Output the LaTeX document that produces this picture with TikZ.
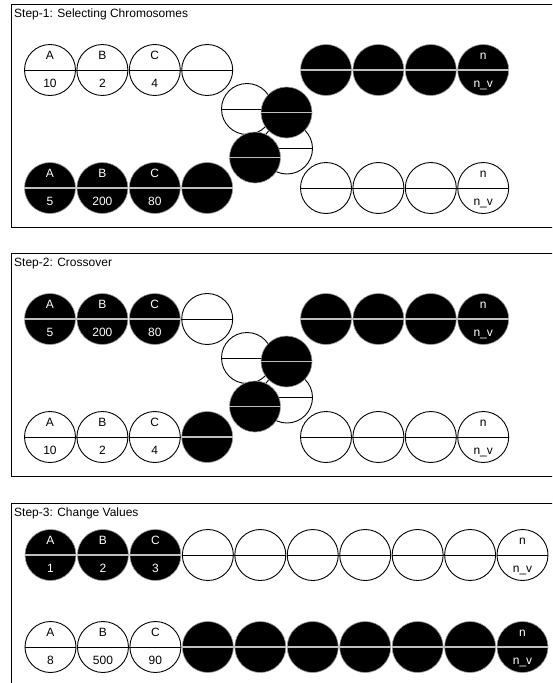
\documentclass[tikz,border=0pt]{standalone}
\usepackage{fontspec}
\setmainfont{Liberation Sans}
\newcommand{\lbl}{\fontsize{12}{14}\selectfont}
\tikzset{
 wc/.style={circle,draw=black,fill=white,minimum size=51pt,inner sep=0pt,line width=0.9pt},
 bc/.style={circle,draw=black!40,fill=black,minimum size=51pt,inner sep=0pt,line width=0.6pt},
 wcline/.style={draw=black,line width=1pt},
 bcline/.style={draw=black!25,line width=1.2pt},
 wctxt/.style={font=\lbl,text=black,inner sep=0pt,anchor=base},
 bctxt/.style={font=\lbl,text=white,inner sep=0pt,anchor=base},
 framebox/.style={draw=black,line width=1pt},
 titletxt/.style={font=\lbl,anchor=west,inner sep=0pt}
}
\newcommand{\crm}[4]{%
 \node[#4c] (#1) at (#2,#3) {};
 \draw[#4cline] (#1.west) -- (#1.east);}
\newcommand{\crmlab}[6]{%
 \crm{#1}{#2}{#3}{#4}
 \node[#4ctxt] (#1t) at (#2,#3-10.7) {#5};
 \node[#4ctxt] (#1b) at (#2,#3+17.3) {#6};}
\newcommand{\cluster}[2]{% prefix, dy
 \crm{#1ul}{247}{109+#2}{w}
 \crm{#1lr}{287}{148.5+#2}{w}
 \crm{#1ur}{286.5}{112.5+#2}{b}
 \crm{#1ll}{255}{157.5+#2}{b}}
\begin{document}
\begin{tikzpicture}[x=1pt,y=-1pt]
\useasboundingbox (0,0) rectangle (552,683);
\clip (0,0) rectangle (552,683);
\fill[white] (0,0) rectangle (552,683);
% ---------- Step 1 ----------
\draw[framebox] (11,4) rectangle (570,227);
\node[titletxt] (t1) at (14,14.5) {Step-1: Selecting Chromosomes};
\crmlab{s1a}{50}{70}{w}{A}{10}
\crmlab{s1b}{102.4}{70}{w}{B}{2}
\crmlab{s1c}{154.8}{70}{w}{C}{4}
\crm{s1d}{207.2}{70}{w}
\crm{s1e}{326}{70}{b}
\crm{s1f}{378.4}{70}{b}
\crm{s1g}{430.8}{70}{b}
\crmlab{s1h}{483.2}{70}{b}{n}{n\_v}
\crmlab{s1i}{50}{188}{b}{A}{5}
\crmlab{s1j}{102.4}{188}{b}{B}{200}
\crmlab{s1k}{154.8}{188}{b}{C}{80}
\crm{s1l}{207.2}{188}{b}
\crm{s1m}{326}{188}{w}
\crm{s1n}{378.4}{188}{w}
\crm{s1o}{430.8}{188}{w}
\crmlab{s1p}{483.2}{188}{w}{n}{n\_v}
\cluster{s1}{0}
% ---------- Step 2 ----------
\draw[framebox] (11,253) rectangle (570,476);
\node[titletxt] (t2) at (14,263.5) {Step-2: Crossover};
\crmlab{s2a}{50}{319}{b}{A}{5}
\crmlab{s2b}{102.4}{319}{b}{B}{200}
\crmlab{s2c}{154.8}{319}{b}{C}{80}
\crm{s2d}{207.2}{319}{w}
\crm{s2e}{326}{319}{b}
\crm{s2f}{378.4}{319}{b}
\crm{s2g}{430.8}{319}{b}
\crmlab{s2h}{483.2}{319}{b}{n}{n\_v}
\crmlab{s2i}{50}{437}{w}{A}{10}
\crmlab{s2j}{102.4}{437}{w}{B}{2}
\crmlab{s2k}{154.8}{437}{w}{C}{4}
\crm{s2l}{207.2}{437}{b}
\crm{s2m}{326}{437}{w}
\crm{s2n}{378.4}{437}{w}
\crm{s2o}{430.8}{437}{w}
\crmlab{s2p}{483.2}{437}{w}{n}{n\_v}
\cluster{s2}{249}
% ---------- Step 3 ----------
\draw[framebox] (11,503) rectangle (570,700);
\node[titletxt] (t3) at (14,513.5) {Step-3: Change Values};
\crmlab{s3a}{50.5}{555}{b}{A}{1}
\crmlab{s3b}{102.95}{555}{b}{B}{2}
\crmlab{s3c}{155.4}{555}{b}{C}{3}
\foreach \i [evaluate=\i as \xx using 50.5+52.45*\i] in {3,...,8} {\crm{s3t\i}{\xx}{555}{w}}
\crmlab{s3j}{522.5}{555}{w}{n}{n\_v}
\crmlab{s3k}{50.5}{647}{w}{A}{8}
\crmlab{s3l}{102.95}{647}{w}{B}{500}
\crmlab{s3m}{155.4}{647}{w}{C}{90}
\foreach \i [evaluate=\i as \xx using 50.5+52.45*\i] in {3,...,8} {\crm{s3b\i}{\xx}{647}{b}}
\crmlab{s3t}{522.5}{647}{b}{n}{n\_v}
\end{tikzpicture}
\end{document}
